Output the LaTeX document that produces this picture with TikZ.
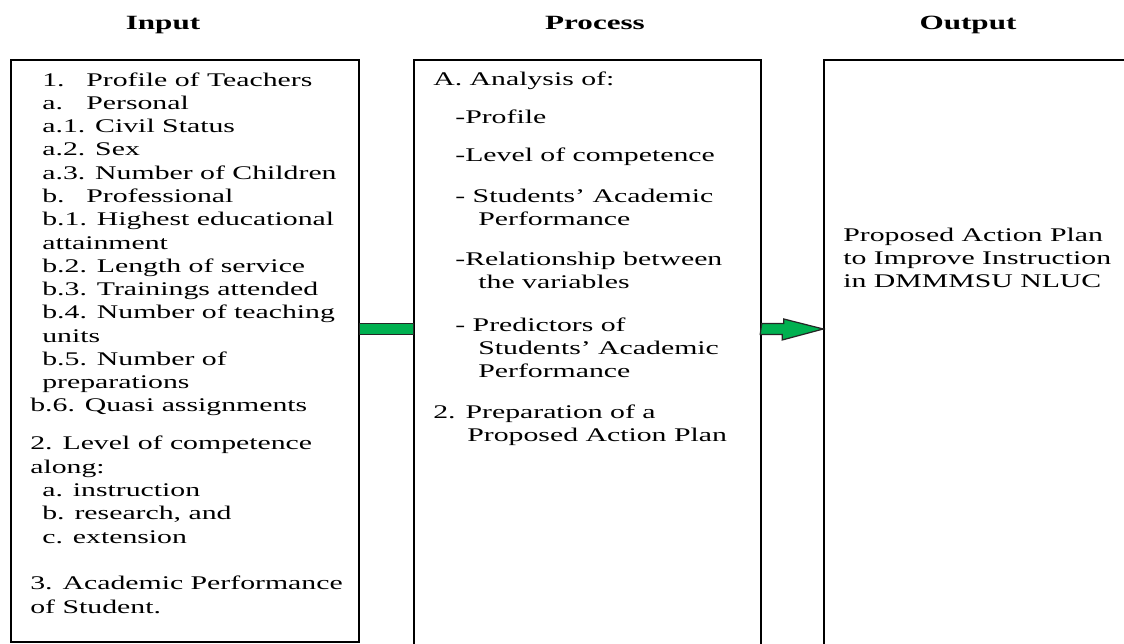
\documentclass[tikz,border=0pt]{standalone}
\usepackage{fontspec}
\setmainfont{Liberation Serif}[FakeStretch=1.54]
\usetikzlibrary{calc,fit}

\definecolor{flowgreen}{HTML}{00B050}
\newlength\upx \setlength\upx{0.02cm}
% small indents and the label column of the item lists
\newcommand\ind{\hspace*{12\upx}}
\newcommand\hang{\hspace*{23\upx}}
\newcommand\lbl[1]{\makebox[44\upx][l]{#1}}

\begin{document}
\begin{tikzpicture}[x=0.02cm,y=-0.02cm,
  box/.style={draw,line width=0.9pt,inner sep=0pt},
  hd/.style={font=\fontsize{11.5}{14}\selectfont\bfseries,anchor=base,inner sep=0pt},
  % multi-line nodes sit on the baseline of their last line
  txt/.style={font=\fontsize{11}{13.25}\selectfont,align=left,anchor=base west,inner sep=0pt},
  flowline/.style={fill=flowgreen,draw=black!85,line width=0.7pt,line join=miter}]
\useasboundingbox (0,0) rectangle (1124,644);

% column titles
\node[hd] (tin) at (163,30) {Input};
\node[hd] (tproc) at (595,30) {Process};
\node[hd] (tout) at (968,30) {Output};

% the three frames
\node[box,fit={(11,60) (359,642)}] (inbox) {};
\node[box,fit={(414,60) (761,690)}] (procbox) {};
\node[box,fit={(824,60) (1190,690)}] (outbox) {};

% input column
\node[txt] (inprofile) at (30,412) {\ind\lbl{1.}Profile of Teachers\\
  \ind\lbl{a.}Personal\\
  \ind a.1. Civil Status\\
  \ind a.2. Sex\\
  \ind a.3. Number of Children\\
  \ind\lbl{b.}Professional\\
  \ind b.1. Highest educational\\
  \ind attainment\\
  \ind b.2. Length of service\\
  \ind b.3. Trainings attended\\
  \ind b.4. Number of teaching\\
  \ind units\\
  \ind b.5. Number of\\
  \ind preparations\\
  b.6. Quasi assignments};
\node[txt] (incomp) at (30,543) {2. Level of competence\\
  along:\\
  \ind a. instruction\\
  \ind b. research, and\\
  \ind c. extension};
\node[txt] (inperf) at (30,613) {3. Academic Performance\\of Student.};

% process column
\node[txt] (panalysis) at (433,86) {A. Analysis of:};
\node[txt] (pprofile) at (455,124) {-Profile};
\node[txt] (plevel) at (455,162) {-Level of competence};
\node[txt] (pstudents) at (455,226) {- Students’ Academic\\\hang Performance};
\node[txt] (prelation) at (455,289) {-Relationship between\\\hang the variables};
\node[txt] (ppredict) at (455,378) {- Predictors of\\\hang Students’ Academic\\\hang Performance};
\node[txt] (pplan) at (433,442) {2. Preparation of a\\\hspace*{34\upx}Proposed Action Plan};

% output column
\node[txt] (oplan) at (843,288) {Proposed Action Plan\\to Improve Instruction\\in DMMMSU NLUC};

% green connectors
\coordinate (flow) at (0,329);
\filldraw[flowline] (inbox.east |- flow) ++(0,-5.5) rectangle ($(procbox.west |- flow)+(0,5.5)$);
\filldraw[flowline] (procbox.east |- flow) ++(0,-5.5) -- ++(22,0) -- ++(0,-4.5)
  -- (outbox.west |- flow) -- ++(-41,11) -- ++(0,-5.5) -- ++(-22,0) -- cycle;
\end{tikzpicture}
\end{document}
